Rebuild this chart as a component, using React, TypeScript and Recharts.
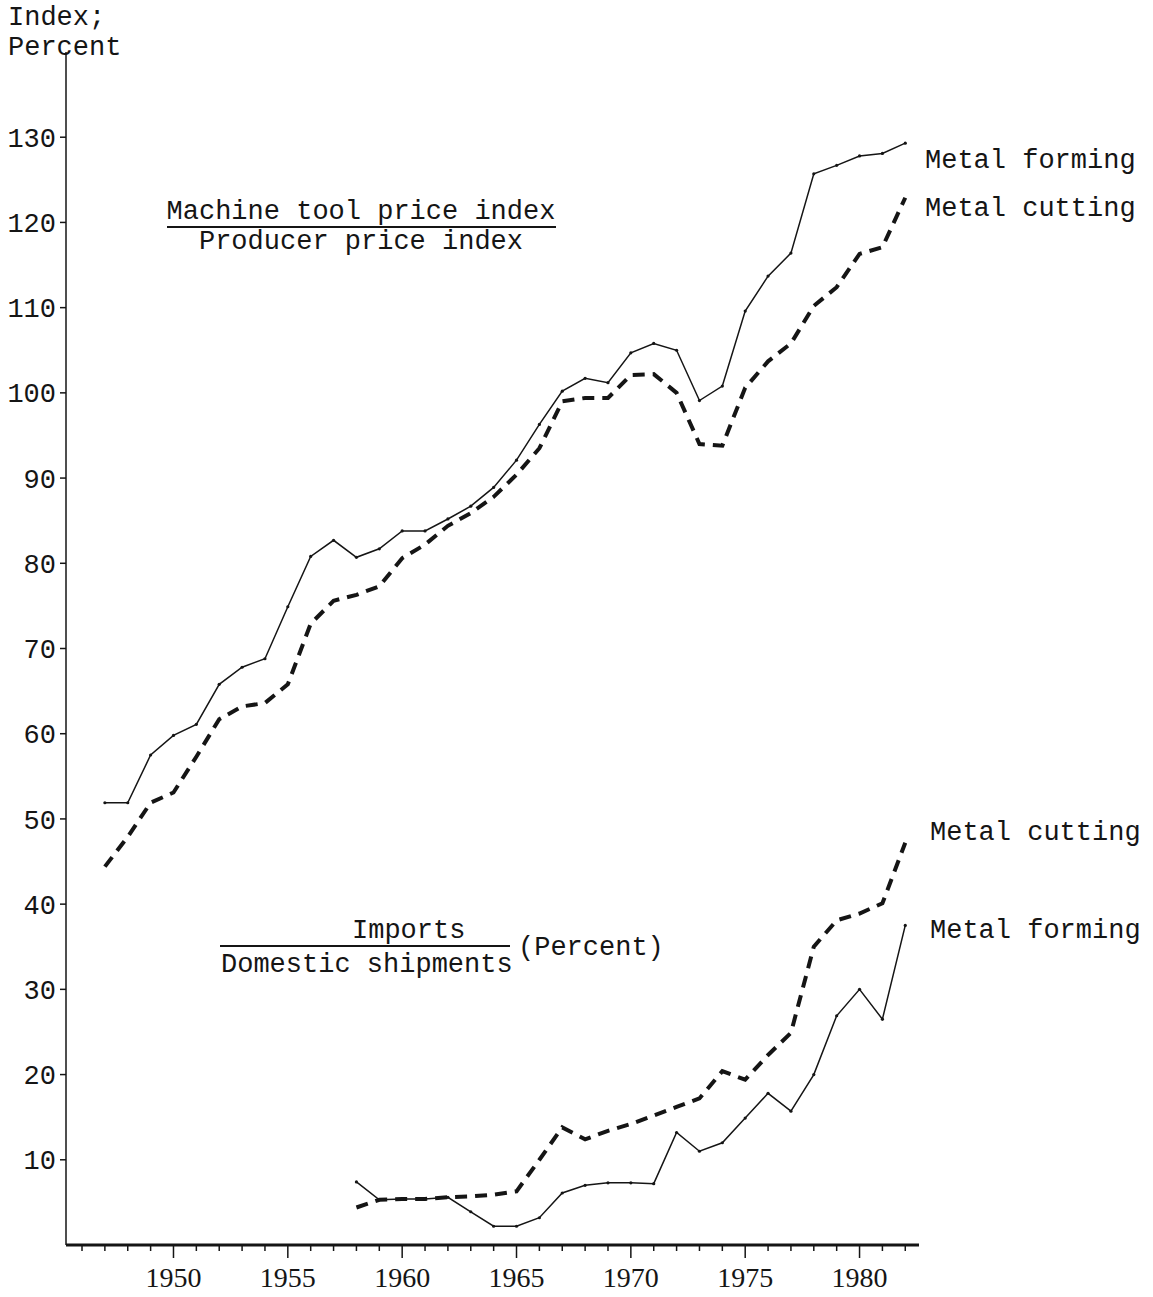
import React from "react";
import { LineChart, Line, XAxis, YAxis } from "recharts";

// years on the price-index curves
const years = [
  1947, 1948, 1949, 1950, 1951, 1952, 1953, 1954, 1955, 1956, 1957, 1958,
  1959, 1960, 1961, 1962, 1963, 1964, 1965, 1966, 1967, 1968, 1969, 1970,
  1971, 1972, 1973, 1974, 1975, 1976, 1977, 1978, 1979, 1980, 1981, 1982,
];

// Machine tool price index / Producer price index
const formingIndex = [
  51.9, 51.9, 57.5, 59.8, 61.1, 65.8, 67.8, 68.8, 74.9, 80.8, 82.7, 80.7,
  81.7, 83.8, 83.8, 85.2, 86.7, 88.9, 92.1, 96.3, 100.2, 101.7, 101.2, 104.7,
  105.8, 105.0, 99.1, 100.8, 109.6, 113.7, 116.4, 125.7, 126.7, 127.8, 128.1, 129.3,
];
const cuttingIndex = [
  44.4, 47.9, 51.9, 53.1, 57.3, 61.7, 63.2, 63.6, 65.8, 72.9, 75.6, 76.3,
  77.3, 80.6, 82.2, 84.4, 85.9, 87.8, 90.4, 93.5, 99.0, 99.4, 99.4, 102.1,
  102.2, 100.0, 94.0, 93.8, 100.6, 103.7, 105.8, 110.2, 112.4, 116.3, 117.1, 122.9,
];

// Imports / Domestic shipments (percent)
const importYears = [
  1958, 1959, 1960, 1961, 1962, 1963, 1964, 1965, 1966, 1967, 1968, 1969,
  1970, 1971, 1972, 1973, 1974, 1975, 1976, 1977, 1978, 1979, 1980, 1981, 1982,
];
const formingImports = [
  7.4, 5.3, 5.4, 5.4, 5.6, 3.9, 2.2, 2.2, 3.2, 6.1, 7.0, 7.3,
  7.3, 7.2, 13.2, 11.0, 12.0, 14.9, 17.8, 15.7, 20.0, 26.9, 30.0, 26.5, 37.5,
];
const cuttingImports = [
  4.4, 5.3, 5.4, 5.4, 5.6, 5.7, 5.9, 6.3, 10.0, 13.8, 12.4, 13.4,
  14.2, 15.2, 16.2, 17.2, 20.4, 19.4, 22.3, 24.9, 35.0, 38.1, 38.9, 40.1, 47.2,
];

const yTicks = [10, 20, 30, 40, 50, 60, 70, 80, 90, 100, 110, 120, 130];
const xTicks = [
  1946, 1947, 1948, 1949, 1950, 1951, 1952, 1953, 1954, 1955, 1956, 1957,
  1958, 1959, 1960, 1961, 1962, 1963, 1964, 1965, 1966, 1967, 1968, 1969,
  1970, 1971, 1972, 1973, 1974, 1975, 1976, 1977, 1978, 1979, 1980, 1981, 1982,
];

const INK = "#151515";
const MONO = "'Liberation Mono', 'DejaVu Sans Mono', monospace";
const SERIF = "'Liberation Serif', 'DejaVu Serif', serif";

const chartData = years.map((year, i) => {
  const j = importYears.indexOf(year);
  return {
    year,
    formingIndex: formingIndex[i],
    cuttingIndex: cuttingIndex[i],
    formingImports: j >= 0 ? formingImports[j] : null,
    cuttingImports: j >= 0 ? cuttingImports[j] : null,
  };
});

// year ticks: short marks each year, long + label every 5 years
const YearTick = (props: any) => {
  const { x, y, payload } = props;
  const yr = payload.value as number;
  const major = yr % 5 === 0;
  return (
    <g>
      <line x1={x} y1={y} x2={x} y2={y + (major ? 13 : 6)} stroke={INK} strokeWidth={1.5} />
      {major && (
        <text x={x} y={y + 42} textAnchor="middle" fontFamily={SERIF} fontSize={28} fill={INK}>
          {yr}
        </text>
      )}
    </g>
  );
};

export default function App() {
  const txt = { fontFamily: MONO, fontSize: 27, fill: INK } as const;
  return (
    <div style={{ position: "absolute", left: 0, top: 0, width: 1153, height: 1297, background: "#fff" }}>
      <LineChart
        width={1153}
        height={1297}
        data={chartData}
        margin={{ top: 52, right: 234, bottom: 0, left: 0 }}
      >
        <XAxis
          dataKey="year"
          type="number"
          domain={[1945.3, 1982.6]}
          allowDataOverflow
          ticks={xTicks}
          interval={0}
          height={52}
          axisLine={{ stroke: INK, strokeWidth: 3 }}
          tickLine={false}
          tickSize={0}
          tickMargin={0}
          tick={<YearTick />}
        />
        <YAxis
          type="number"
          domain={[0, 140]}
          allowDataOverflow
          ticks={yTicks}
          interval={0}
          width={66}
          axisLine={{ stroke: INK, strokeWidth: 1.5 }}
          tickLine={{ stroke: INK, strokeWidth: 1.5 }}
          tickSize={6}
          tickMargin={4}
          tick={{ fontFamily: MONO, fontSize: 27, fill: INK }}
        />
        <Line
          dataKey="formingIndex"
          type="linear"
          stroke={INK}
          strokeWidth={1.5}
          dot={{ r: 1.6, fill: INK, stroke: "none" }}
          isAnimationActive={false}
        />
        <Line
          dataKey="cuttingIndex"
          type="linear"
          stroke={INK}
          strokeWidth={4}
          strokeDasharray="12 8"
          dot={false}
          isAnimationActive={false}
        />
        <Line
          dataKey="formingImports"
          type="linear"
          stroke={INK}
          strokeWidth={1.5}
          dot={{ r: 1.6, fill: INK, stroke: "none" }}
          connectNulls={false}
          isAnimationActive={false}
        />
        <Line
          dataKey="cuttingImports"
          type="linear"
          stroke={INK}
          strokeWidth={4}
          strokeDasharray="12 8"
          dot={false}
          connectNulls={false}
          isAnimationActive={false}
        />
      </LineChart>

      <svg
        width={1153}
        height={1297}
        style={{ position: "absolute", left: 0, top: 0, pointerEvents: "none" }}
      >
        <text x={8} y={25} {...txt}>Index;</text>
        <text x={8} y={55} {...txt}>Percent</text>

        <text x={361} y={219} textAnchor="middle" {...txt}>Machine tool price index</text>
        <line x1={167} y1={227} x2={556} y2={227} stroke={INK} strokeWidth={2} />
        <text x={361} y={249} textAnchor="middle" {...txt}>Producer price index</text>

        <text x={925} y={168} {...txt}>Metal forming</text>
        <text x={925} y={216} {...txt}>Metal cutting</text>

        <text x={352} y={938} {...txt}>Imports</text>
        <line x1={220} y1={946} x2={510} y2={946} stroke={INK} strokeWidth={2} />
        <text x={221} y={972} {...txt}>Domestic shipments</text>
        <text x={518} y={955} {...txt}>(Percent)</text>

        <text x={930} y={840} {...txt}>Metal cutting</text>
        <text x={930} y={938} {...txt}>Metal forming</text>
      </svg>
    </div>
  );
}
